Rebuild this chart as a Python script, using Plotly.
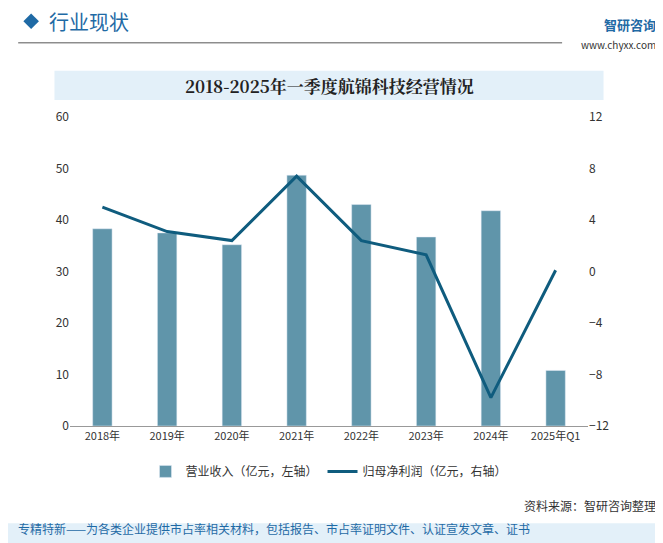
import plotly.graph_objects as go

years = ["2018年", "2019年", "2020年", "2021年", "2022年", "2023年", "2024年", "2025年Q1"]
revenue = [38.3, 37.5, 35.2, 48.7, 43.0, 36.7, 41.8, 10.8]
profit = [5.0, 3.1, 2.4, 7.4, 2.4, 1.3, -9.8, 0.1]

W, H = 663, 543
fig = go.Figure()
fig.add_trace(go.Bar(x=years, y=revenue, name="营业收入（亿元，左轴）",
                     marker_color="#6095aa", width=0.3))
fig.add_trace(go.Scatter(x=years, y=profit, name="归母净利润（亿元，右轴）", yaxis="y2",
                         mode="lines", line=dict(color="#0f5c7e", width=3)))

fig.update_layout(
    width=W, height=H, margin=dict(l=62, r=83, t=109, b=125),
    paper_bgcolor="white", plot_bgcolor="white",
    font=dict(family="Noto Sans CJK SC", size=12, color="#333"),
    xaxis=dict(showline=True, linecolor="#999", tickfont=dict(size=11)),
    yaxis=dict(range=[0, 60], dtick=10, showgrid=False, zeroline=False, tickfont=dict(size=12)),
    yaxis2=dict(range=[-12, 12], dtick=4, overlaying="y", side="right", showgrid=False,
                zeroline=False, tickfont=dict(size=12)),
    legend=dict(orientation="h", x=0.5, xanchor="center", y=-0.1, yanchor="top",
                font=dict(size=12)),
    bargap=0.5,
    shapes=[
        dict(type="line", xref="paper", yref="paper", x0=-0.1, x1=0.95, y0=1.24, y1=1.24,
             line=dict(color="#555", width=1)),
        dict(type="rect", xref="paper", yref="paper", x0=-0.03, x1=1.03, y0=1.055, y1=1.15,
             fillcolor="#e3f0f9", line_width=0, layer="below"),
        dict(type="path", xref="paper", yref="paper",
             path="M -0.09 1.31 L -0.075 1.335 L -0.06 1.31 L -0.075 1.285 Z",
             fillcolor="#1f6aa5", line_width=0),
        dict(type="rect", xref="paper", yref="paper", x0=-0.12, x1=1.17, y0=-0.42, y1=-0.315,
             fillcolor="#e3f0f9", line_width=0, layer="below"),
    ],
    annotations=[
        dict(text="行业现状", xref="paper", yref="paper", x=-0.045, y=1.31, xanchor="left",
             yanchor="middle", showarrow=False, font=dict(size=20, color="#1f6aa5")),
        dict(text="<b>智研咨询</b>", xref="paper", yref="paper", x=1.135, y=1.335, xanchor="right",
             showarrow=False, font=dict(size=13, color="#1f6aa5")),
        dict(text="www.chyxx.com", xref="paper", yref="paper", x=1.135, y=1.265, xanchor="right",
             showarrow=False, font=dict(size=10, color="#333")),
        dict(text="<b>2018-2025年一季度航锦科技经营情况</b>", xref="paper", yref="paper", x=0.5,
             y=1.103, yanchor="middle", showarrow=False,
             font=dict(size=17, color="#222", family="Noto Serif CJK SC, Noto Sans CJK SC")),
        dict(text="资料来源：智研咨询整理", xref="paper", yref="paper", x=1.135, y=-0.29,
             xanchor="right", showarrow=False, font=dict(size=12, color="#333")),
        dict(text="专精特新——为各类企业提供市占率相关材料，包括报告、市占率证明文件、认证宣发文章、证书",
             xref="paper", yref="paper", x=-0.105, y=-0.365, xanchor="left", showarrow=False,
             font=dict(size=12, color="#1f6aa5")),
    ],
)
fig.write_html("out.html")
